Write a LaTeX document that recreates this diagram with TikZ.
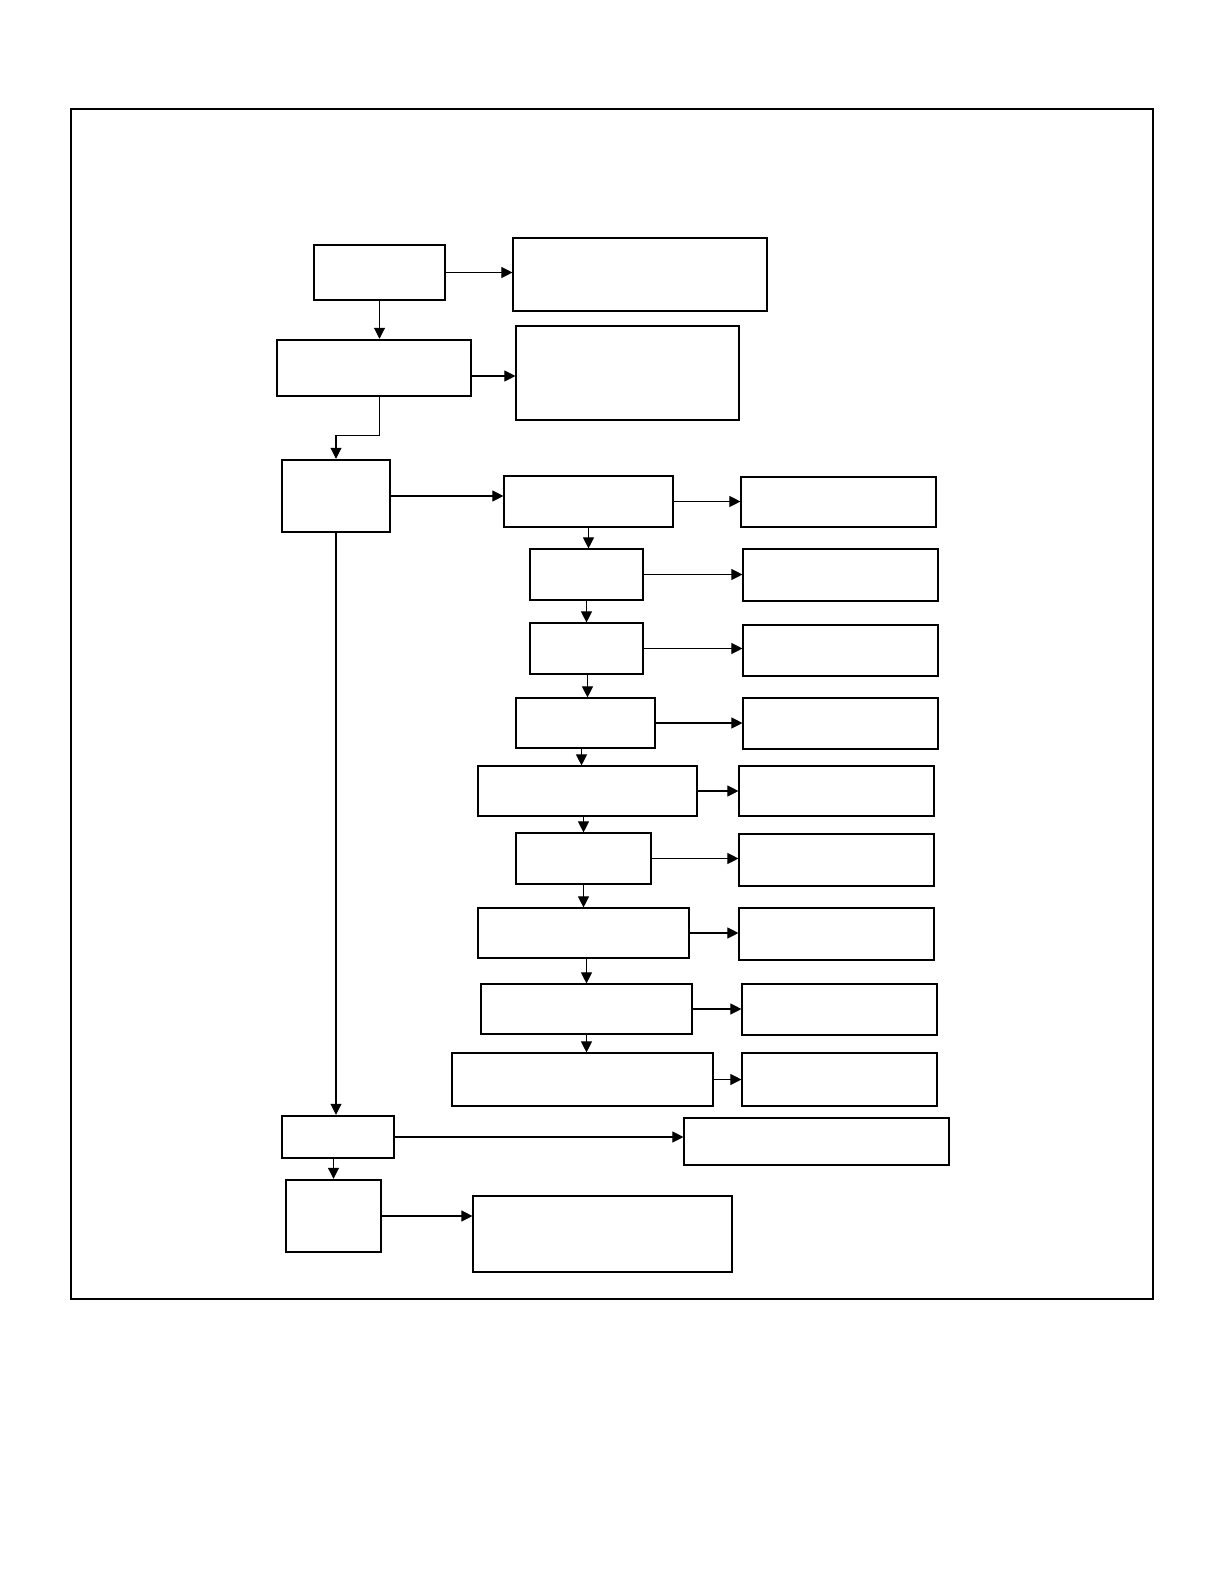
\documentclass[tikz,border=0pt]{standalone}
\usetikzlibrary{arrows.meta}

\newcommand{\flowbox}[6]{%
  \node[#2, minimum width={(#5-#3)*0.02cm}, minimum height={(#6-#4)*0.02cm}]
    (#1) at ({(#3+#5)/2},{(#4+#6)/2}) {};}

\begin{document}
\begin{tikzpicture}[
  x=0.02cm, y=-0.02cm,
  stage/.style={draw, line width=1.4pt, inner sep=0pt},
  note/.style={draw, line width=0.65pt, inner sep=0pt},
  arr/.style={-{Triangle[length=0.22cm,width=0.22cm]}, line width=0.6pt}
]
\useasboundingbox (0,0) rectangle (1224,1584);
\draw[line width=0.9pt] (71,109) rectangle (1153,1299);

% left column
\flowbox{A}{stage}{314}{245}{445}{300}
\flowbox{B}{stage}{277}{340}{471}{396}
\flowbox{C}{stage}{282}{460}{390}{532}
\flowbox{D}{stage}{282}{1116}{394}{1158}
\flowbox{E}{stage}{286}{1180}{381}{1252}

% notes of the first two stages
\flowbox{A2}{note}{513}{238}{767}{311}
\flowbox{B2}{note}{516}{326}{739}{420}

% middle column
\flowbox{M1}{note}{504}{476}{673}{527}
\flowbox{M2}{note}{530}{549}{643}{600}
\flowbox{M3}{note}{530}{623}{643}{674}
\flowbox{M4}{note}{516}{698}{655}{748}
\flowbox{M5}{note}{478}{766}{697}{816}
\flowbox{M6}{note}{516}{833}{651}{884}
\flowbox{M7}{note}{478}{908}{689}{958}
\flowbox{M8}{note}{481}{984}{692}{1034}
\flowbox{M9}{note}{452}{1053}{713}{1106}

% right column
\flowbox{R1}{note}{741}{477}{936}{527}
\flowbox{R2}{note}{743}{549}{938}{601}
\flowbox{R3}{note}{743}{625}{938}{676}
\flowbox{R4}{note}{743}{698}{938}{749}
\flowbox{R5}{note}{739}{766}{934}{816}
\flowbox{R6}{note}{739}{834}{934}{886}
\flowbox{R7}{note}{739}{908}{934}{960}
\flowbox{R8}{note}{742}{984}{937}{1035}
\flowbox{R9}{note}{742}{1053}{937}{1106}

\flowbox{D2}{note}{684}{1118}{949}{1165}
\flowbox{E2}{note}{473}{1196}{732}{1272}

% connectors
\draw[arr] (A.east) -- (A.east -| A2.west);
\draw[arr] (A.south) -- (A.south |- B.north);
\draw[arr] ([yshift=-3*0.02cm]B2.west -| B.east) -- ([yshift=-3*0.02cm]B2.west);
\draw[arr] (A.south |- B.south) -- ++(0,38) -| (C.north);
\draw[arr] (C.east) -- (C.east -| M1.west);
\draw[arr] (C.south) -- (C.south |- D.north);
\draw[arr] (D.east) -- (D.east -| D2.west);
\draw[arr] (E.north |- D.south) -- (E.north);
\draw[arr] (E.east) -- (E.east -| E2.west);

\foreach \m in {1,...,9}
  \draw[arr] (M\m.east) -- (M\m.east -| R\m.west);

\draw[arr] (M1.south) -- (M1.south |- M2.north);
\draw[arr] (M2.south) -- (M2.south |- M3.north);
\draw[arr] ([xshift=1*0.02cm]M3.south) -- ([xshift=1*0.02cm]M3.south |- M4.north);
\draw[arr] ([xshift=-4*0.02cm]M4.south) -- ([xshift=-4*0.02cm]M4.south |- M5.north);
\draw[arr] (M6.north |- M5.south) -- (M6.north);
\draw[arr] (M6.south) -- (M6.south |- M7.north);
\draw[arr] (M8.north |- M7.south) -- (M8.north);
\draw[arr] (M8.south) -- (M8.south |- M9.north);
\end{tikzpicture}
\end{document}
